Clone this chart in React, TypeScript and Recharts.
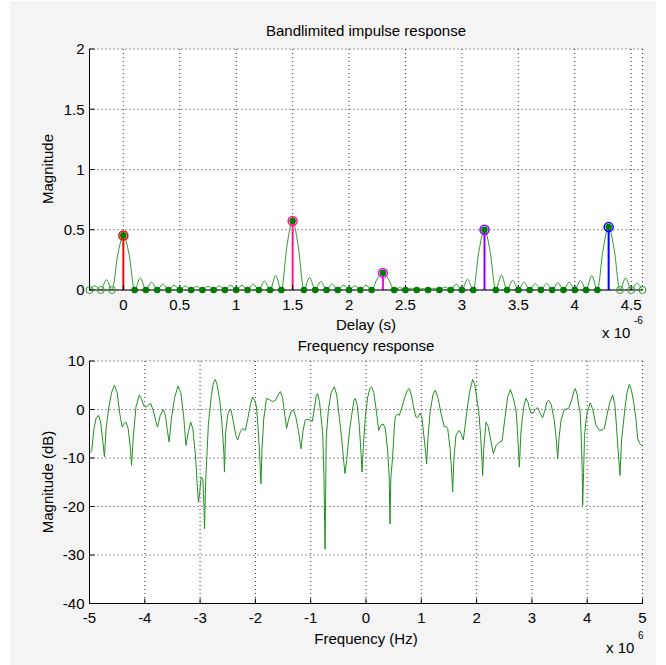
import React from "react";
import {
  ComposedChart,
  Line,
  Scatter,
  XAxis,
  YAxis,
  CartesianGrid,
  ReferenceLine,
} from "recharts";

const FONT = '"Liberation Sans", Arial, Helvetica, sans-serif';

// ---- top plot: bandlimited impulse response (delay in units of 1e-6 s)
const delayTicks = [0, 0.5, 1, 1.5, 2, 2.5, 3, 3.5, 4, 4.5];
const magTicks = [0, 0.5, 1, 1.5, 2];

const tapDelays = [0, 1.5, 2.3, 3.2, 4.3];
const tapGains = [0.453, 0.572, 0.142, 0.5, 0.522];
const tapColors = ["#ff0000", "#ff1493", "#ff00ff", "#8a00ff", "#0000ff"];

// magnitude read on a half-sample grid, from -0.3 to 4.6 (step 0.05)
const impulseStart = -0.3;
const impulseStep = 0.05;
const impulseCurve = [
  0, 0.035, 0, 0.085, 0, 0.29,
  0.453, 0.3, 0, 0.1, 0, 0.065, 0, 0.05, 0, 0.04, 0, 0.035, 0, 0.03,
  0, 0.03, 0, 0.035, 0, 0.04, 0, 0.04, 0, 0.05, 0, 0.075, 0, 0.12, 0, 0.37,
  0.572, 0.36, 0, 0.105, 0, 0.07, 0, 0.05, 0, 0.04, 0, 0.035, 0, 0.04, 0, 0.095,
  0.142, 0.09, 0, 0.02, 0, 0.015, 0, 0.012, 0, 0.015, 0, 0.025, 0, 0.05, 0, 0.09, 0, 0.32,
  0.5, 0.32, 0, 0.125, 0, 0.08, 0, 0.065, 0, 0.055, 0, 0.055, 0, 0.06, 0, 0.065, 0, 0.08,
  0, 0.12, 0, 0.33,
  0.522, 0.33, 0, 0.1, 0, 0.055, 0,
];

// ---- bottom plot: frequency response (frequency in units of 1e6 Hz)
const freqTicks = [-5, -4, -3, -2, -1, 0, 1, 2, 3, 4, 5];
const dbTicks = [-40, -30, -20, -10, 0, 10];

const freqPoints = [
  -5.0, -4.96, -4.92, -4.88, -4.84, -4.8, -4.76, -4.73, -4.7, -4.65,
  -4.6, -4.55, -4.5, -4.45, -4.41, -4.37, -4.34, -4.3, -4.26, -4.24,
  -4.21, -4.16, -4.1, -4.06, -4.02, -3.98, -3.93, -3.89, -3.84, -3.8,
  -3.77, -3.72, -3.67, -3.63, -3.59, -3.56, -3.52, -3.46, -3.4, -3.35,
  -3.3, -3.255, -3.21, -3.17, -3.13, -3.08, -3.05, -3.03, -3.01, -2.98,
  -2.95, -2.93, -2.92, -2.9, -2.89, -2.85, -2.8, -2.76, -2.725, -2.69,
  -2.64, -2.6, -2.57, -2.56, -2.54, -2.5, -2.46, -2.44, -2.4, -2.35,
  -2.32, -2.27, -2.23, -2.18, -2.14, -2.09, -2.05, -2.01, -1.98, -1.95,
  -1.92, -1.9, -1.88, -1.85, -1.8, -1.74, -1.69, -1.63, -1.58, -1.55,
  -1.51, -1.47, -1.435, -1.4, -1.35, -1.31, -1.27, -1.22, -1.19, -1.176,
  -1.14, -1.1, -1.05, -1.0, -0.97, -0.93, -0.9, -0.874, -0.84, -0.8,
  -0.784, -0.76, -0.741, -0.73, -0.72, -0.68, -0.63, -0.573, -0.53, -0.48,
  -0.44, -0.4, -0.38, -0.35, -0.3, -0.25, -0.22, -0.193, -0.16, -0.12,
  -0.09, -0.072, -0.05, -0.012, 0.03, 0.07, 0.1, 0.14, 0.19, 0.229,
  0.27, 0.313, 0.35, 0.39, 0.42, 0.434, 0.45, 0.482, 0.51, 0.53,
  0.56, 0.603, 0.65, 0.7, 0.75, 0.784, 0.82, 0.86, 0.9, 0.934,
  0.976, 1.01, 1.055, 1.08, 1.097, 1.12, 1.16, 1.21, 1.254, 1.3,
  1.36, 1.416, 1.45, 1.477, 1.52, 1.55, 1.567, 1.59, 1.627, 1.688,
  1.72, 1.76, 1.79, 1.84, 1.88, 1.929, 1.97, 2.0, 2.037, 2.07,
  2.1, 2.11, 2.13, 2.17, 2.21, 2.26, 2.302, 2.35, 2.41, 2.46,
  2.51, 2.56, 2.61, 2.66, 2.712, 2.74, 2.773, 2.8, 2.83, 2.86,
  2.893, 2.93, 2.96, 2.983, 3.02, 3.06, 3.104, 3.15, 3.194, 3.24,
  3.27, 3.303, 3.35, 3.405, 3.44, 3.466, 3.49, 3.526, 3.586, 3.664,
  3.72, 3.76, 3.785, 3.82, 3.85, 3.87, 3.89, 3.91, 3.918, 3.935,
  3.95, 3.966, 4.0, 4.056, 4.1, 4.159, 4.219, 4.27, 4.31, 4.36,
  4.41, 4.46, 4.5, 4.53, 4.55, 4.593, 4.62, 4.641, 4.68, 4.72,
  4.762, 4.8, 4.84, 4.882, 4.912, 4.95, 5.0,
];

const dbValues = [
  -9.0, -8.5, -4.0, -1.8, -1.2, -2.5, -6.5, -9.8, -4.0, 0.5,
  3.5, 5.0, 3.5, -1.0, -3.6, -2.8, -2.6, -4.0, -8.0, -11.5,
  -6.0, 0.5, 3.0, 2.2, 0.8, 0.5, 1.0, 1.2, -0.5, -2.5,
  -3.6, -1.2, 0.0, -1.0, -4.5, -6.7, -2.0, 2.5, 4.8, 3.5,
  -1.0, -7.4, -4.5, -2.6, -4.0, -10.0, -16.0, -19.1, -17.4, -13.9,
  -14.3, -20.0, -24.6, -15.0, -12.6, -3.0, 2.5, 5.5, 6.2, 5.0,
  1.5, -3.5, -9.0, -12.9, -5.0, -1.0, 0.0, -0.1, -2.5, -5.5,
  -6.3, -4.5, -3.9, -4.3, -2.0, 1.0, 2.6, 1.8, 0.6, -4.0,
  -10.0, -15.3, -8.0, -2.0, 2.3, 2.0, 1.6, 2.0, 3.2, 3.7,
  2.5, -1.0, -3.9, -2.0, -0.3, -0.1, -1.5, -4.5, -7.0, -8.1,
  -4.5, -2.2, -2.0, -2.2, -2.4, 0.5, 2.8, 3.3, 1.5, -3.0,
  -4.6, -14.0, -28.8, -18.0, -6.0, 0.0, 3.5, 4.7, 3.0, -1.9,
  -6.0, -11.0, -13.2, -10.5, -4.5, -0.5, 1.8, 2.3, 1.0, -3.5,
  -9.0, -12.9, -8.0, -1.5, 2.5, 4.3, 4.7, 3.5, -0.5, -4.3,
  -3.2, -3.0, -4.0, -8.4, -14.0, -23.6, -14.0, -9.8, -4.0, -1.5,
  -1.0, -1.2, 0.5, 2.5, 4.0, 4.3, 3.0, 0.5, -1.5, -1.7,
  -0.8, -1.5, -6.3, -9.0, -11.2, -6.0, -0.5, 3.0, 4.0, 2.5,
  -1.0, -3.6, -3.5, -3.9, -8.0, -13.0, -17.0, -10.0, -5.3, -4.3,
  -5.0, -6.3, -3.5, 1.0, 4.0, 6.2, 5.0, 2.5, -0.1, -5.0,
  -11.0, -13.6, -8.0, -2.6, -3.5, -6.5, -9.1, -7.5, -6.7, -6.5,
  -2.0, 2.5, 4.1, 2.5, -0.1, -4.5, -11.9, -5.0, -1.5, 1.0,
  2.3, 1.5, 0.0, -0.7, -0.7, 0.0, 0.4, -0.8, -1.7, 0.0,
  1.5, 1.9, 1.0, -2.2, -6.0, -10.1, -6.0, -2.2, 0.0, 0.2,
  2.0, 3.8, 4.3, 3.0, 0.5, -0.1, -5.0, -13.0, -19.8, -13.0,
  -6.0, -3.6, -0.5, 1.4, 0.0, -3.2, -4.3, -4.2, -3.9, -1.0,
  1.5, 3.0, 1.0, -3.5, -7.0, -13.6, -6.5, -4.3, 0.0, 3.5,
  5.2, 4.0, 1.5, -1.9, -6.0, -7.0, -7.6,
];

const FS = 15;
const axisTick = { fontSize: FS, fill: "#000" };
const axisLine = { stroke: "#000" };
const gridColor = "#333";

function Text({ x, y, size = FS, rotate = 0, children }: any) {
  return (
    <div
      style={{
        position: "absolute",
        left: x,
        top: y,
        transform: `translate(-50%, -50%) rotate(${rotate}deg)`,
        fontSize: size,
        lineHeight: 1,
        whiteSpace: "nowrap",
        color: "#000",
      }}
    >
      {children}
    </div>
  );
}

function ImpulsePlot() {
  const curve = impulseCurve.map((y, i) => ({
    x: +(impulseStart + i * impulseStep).toFixed(2),
    y,
  }));
  const samples = curve.filter((_, i) => i % 2 === 0);
  const inner = samples.filter((d) => d.x >= 0 && d.x <= 4.30001);
  const outer = samples.filter((d) => d.x < 0 || d.x > 4.30001);
  const taps = tapDelays.map((x, i) => ({ x, y: tapGains[i], color: tapColors[i] }));

  return (
    <ComposedChart
      width={666}
      height={330}
      margin={{ top: 49, right: 23.5, bottom: 10, left: 0 }}
    >
      <CartesianGrid stroke={gridColor} strokeDasharray="1 3" />
      <XAxis
        type="number"
        dataKey="x"
        domain={[-0.3, 4.6]}
        ticks={delayTicks}
        interval={0}
        height={30}
        tick={axisTick}
        tickSize={-5}
        tickMargin={14}
        axisLine={axisLine}
        tickLine={axisLine}
      />
      <YAxis
        type="number"
        domain={[0, 2]}
        ticks={magTicks}
        interval={0}
        width={89.5}
        tick={axisTick}
        tickSize={-5}
        tickMargin={10}
        axisLine={axisLine}
        tickLine={axisLine}
      />
      <Line
        data={curve}
        dataKey="y"
        type="monotone"
        stroke="#2f9a2f"
        strokeWidth={1}
        dot={false}
        activeDot={false}
        isAnimationActive={false}
      />
      {taps.map((t) => (
        <ReferenceLine
          key={t.x}
          segment={[
            { x: t.x, y: 0 },
            { x: t.x, y: t.y },
          ]}
          stroke={t.color}
          strokeWidth={2}
        />
      ))}
      <Scatter
        data={taps}
        dataKey="y"
        isAnimationActive={false}
        shape={(p: any) => (
          <circle cx={p.cx} cy={p.cy} r={4.5} fill="none" stroke={p.payload.color} strokeWidth={1.5} />
        )}
      />
      <Scatter
        data={outer}
        dataKey="y"
        isAnimationActive={false}
        shape={(p: any) => (
          <circle cx={p.cx} cy={p.cy} r={3.5} fill="none" stroke="#2f9a2f" strokeWidth={1} />
        )}
      />
      <Scatter
        data={inner}
        dataKey="y"
        isAnimationActive={false}
        shape={(p: any) => <circle cx={p.cx} cy={p.cy} r={3.3} fill="#007a00" />}
      />
    </ComposedChart>
  );
}

function FrequencyPlot() {
  const data = freqPoints.map((x, i) => ({ x, y: dbValues[i] }));
  return (
    <ComposedChart
      width={666}
      height={335}
      data={data}
      margin={{ top: 31, right: 23.5, bottom: 31.5, left: 0 }}
    >
      <CartesianGrid stroke={gridColor} strokeDasharray="1 3" />
      <XAxis
        type="number"
        dataKey="x"
        domain={[-5, 5]}
        ticks={freqTicks}
        interval={0}
        height={30}
        tick={axisTick}
        tickSize={-5}
        tickMargin={14}
        axisLine={axisLine}
        tickLine={axisLine}
      />
      <YAxis
        type="number"
        domain={[-40, 10]}
        ticks={dbTicks}
        interval={0}
        width={89.5}
        tick={axisTick}
        tickSize={-5}
        tickMargin={10}
        axisLine={axisLine}
        tickLine={axisLine}
      />
      <Line
        dataKey="y"
        type="linear"
        stroke="#229022"
        strokeWidth={1}
        dot={false}
        activeDot={false}
        isAnimationActive={false}
      />
    </ComposedChart>
  );
}

export default function App() {
  return (
    <div
      style={{
        position: "absolute",
        left: 0,
        top: 0,
        width: 666,
        height: 665,
        background: "#fff",
        fontFamily: FONT,
        overflow: "hidden",
      }}
    >
      <div
        style={{
          position: "absolute",
          left: 10,
          top: 1,
          width: 646,
          height: 664,
          background: "#f4f4f4",
        }}
      />
      <div style={{ position: "absolute", left: 0, top: 0 }}>
        <div style={{ position: "absolute", left: 89.5, top: 49, width: 553, height: 241, background: "#fff" }} />
        <div style={{ position: "absolute", left: 0, top: 0 }}>
          <ImpulsePlot />
        </div>
      </div>
      <div style={{ position: "absolute", left: 0, top: 330 }}>
        <div style={{ position: "absolute", left: 89.5, top: 31, width: 553, height: 242.5, background: "#fff" }} />
        <div style={{ position: "absolute", left: 0, top: 0 }}>
          <FrequencyPlot />
        </div>
      </div>

      <Text x={366} y={30}>Bandlimited impulse response</Text>
      <Text x={366} y={324}>Delay (s)</Text>
      <Text x={47} y={169} rotate={-90}>Magnitude</Text>
      <div style={{ position: "absolute", left: 602, top: 325, fontSize: FS, lineHeight: 1 }}>x 10</div>
      <div style={{ position: "absolute", left: 634, top: 316, fontSize: 10, lineHeight: 1 }}>-6</div>

      <Text x={366} y={345}>Frequency response</Text>
      <Text x={366} y={638}>Frequency (Hz)</Text>
      <Text x={47} y={482} rotate={-90}>Magnitude (dB)</Text>
      <div style={{ position: "absolute", left: 606, top: 640, fontSize: FS, lineHeight: 1 }}>x 10</div>
      <div style={{ position: "absolute", left: 638, top: 631, fontSize: 10, lineHeight: 1 }}>6</div>
    </div>
  );
}
